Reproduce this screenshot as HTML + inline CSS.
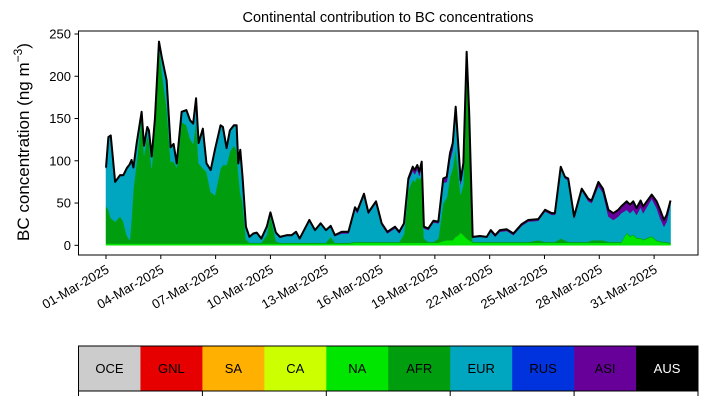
<!DOCTYPE html>
<html><head><meta charset="utf-8"><style>
body{margin:0;background:#fff;width:707px;height:402px;overflow:hidden;font-family:"Liberation Sans","DejaVu Sans",sans-serif}
svg{display:block}
</style></head><body>
<svg id="chart" width="707" height="402">
<text x="388" y="22" font-size="14.5" text-anchor="middle">Continental contribution to BC concentrations</text>
<text transform="translate(29,142) rotate(-90)" font-size="17" text-anchor="middle">BC concentration (ng m<tspan font-size="12" dy="-7">−3</tspan><tspan dy="7">)</tspan></text>
<g id="layers"></g>
<g id="axes"></g>
<g id="legend"></g>
</svg>
<script>
const days=[0,0.13,0.26,0.5,0.77,0.95,1.13,1.3,1.4,1.5,
1.68,1.95,2.08,2.26,2.35,2.5,2.68,2.9,3.05,3.32,
3.54,3.7,3.87,4.14,4.4,4.6,4.77,4.93,5.07,5.3,
5.5,5.73,5.96,6.27,6.4,6.6,6.78,7.0,7.15,7.24,
7.35,7.47,7.66,7.85,8.06,8.25,8.5,8.8,9.0,9.3,
9.52,9.89,10.16,10.4,10.6,11.13,11.44,11.75,12.04,12.3,
12.53,12.9,13.27,13.63,13.76,14.12,14.36,14.78,15.09,15.4,
15.82,16.05,16.31,16.55,16.79,16.9,17.04,17.15,17.28,17.4,
17.64,17.92,18.19,18.46,18.65,18.83,18.98,19.14,19.3,19.41,
19.56,19.74,19.88,20.07,20.47,20.84,21.06,21.3,21.56,21.93,
22.3,22.75,23.11,23.66,24.03,24.4,24.57,24.89,25.12,25.3,
25.62,26.04,26.4,26.58,26.95,27.2,27.5,27.77,28.04,28.2,
28.5,28.68,28.86,29.04,29.26,29.4,29.87,30.14,30.33,30.54,
30.69,30.9];
const naVals=[2,2,2,2,2,2,2,2,2,2, 2,2,2,2,2,2,2,2,2,2, 2,2,2,2,2,2,2,2,2,2,
2,2,2,2,2,2,2,2,2,2, 2,2,2,2,2,2,2,2,2,2, 2,2,2,2,2,2,2,2,2,2,
2,2,2,3,3,3,3,3,3,3, 3,3,3,3,3,3,3,3,3,3, 3,3,3,5,6,6,6,10,12,15,
12,8,6,3,3,3,3,3,3,3, 3,3,3,3,3,3,3,3,3,3, 3,3,3,3,3,3,3,3,3,3,
14,10,12,8,8,6,10,5,4,3, 3,2];
const afrVals=[44,40,30,26,32,26,10,4,30,65,
97,152,105,128,120,89,140,236,205,160,
97,97,90,144,140,124,118,144,95,89,
85,61,57,89,93,93,109,116,110,85,
60,49,5,1,1,1,1,10,33,3,
1,1,1,1,1,1,1,1,1,8,
1,1,1,1,1,1,1,1,1,1,
1,1,10,62,75,72,78,75,78,5,
1,1,5,45,50,75,85,105,70,45,
60,212,140,1,1,1,1,1,1,1,
1,1,1,3,1,1,1,5,3,1,
1,1,1,3,3,3,1,1,1,1,
1,1,1,1,1,1,1,1,1,1,
1,1];
const eurVals=[45,85,97,46,48,54,78,89,68,24,
21,3,10,9,13,13,7,2,15,32,
16,20,4,11,17,21,23,27,23,46,
9,25,53,50,44,19,24,23,29,9,
50,30,14,6,10,11,4,9,3,9,
6,8,8,12,4,26,14,22,14,12,
8,11,11,38,34,55,33,46,20,10,
16,10,11,11,10,9,9,4,13,12,
14,23,18,24,19,20,22,41,25,12,
19,6,7,5,6,5,12,6,12,13,
8,19,24,23,36,32,32,83,73,73,
28,61,48,44,64,56,30,26,30,34,
27,27,29,27,36,31,44,38,27,18,
24,47];
const asiVals=[1,1,1,1,1,1,1,1,1,1, 1,1,1,1,1,1,1,1,1,1, 1,1,1,1,1,1,1,1,1,1,
1,1,1,1,1,1,1,1,1,1, 1,1,1,1,1,1,1,1,1,1, 1,1,1,1,1,1,1,1,1,1,
1,2,2,3,3,2,2,2,2,2, 2,2,2,3,5,5,5,5,5,2, 2,2,2,5,6,8,8,8,6,5,
6,3,3,1,1,1,2,2,2,2, 2,2,2,2,2,2,2,2,2,2, 2,2,3,3,5,5,8,8,8,8,
10,10,10,8,8,8,5,8,10,8, 8,3];
const yTicks=[0,50,100,150,200,250];
const xTickDays=[0,3,6,9,12,15,18,21,24,27,30];
const xTickLabels=["01-Mar-2025","04-Mar-2025","07-Mar-2025","10-Mar-2025","13-Mar-2025","16-Mar-2025","19-Mar-2025","22-Mar-2025","25-Mar-2025","28-Mar-2025","31-Mar-2025"];
const legendNames=["OCE","GNL","SA","CA","NA","AFR","EUR","RUS","ASI","AUS"];
const legendColors=["#cccccc","#e60000","#ffb000","#ccff00","#00e600","#009e0e","#00a5bf","#0033dd","#660099","#000000"];

const NS="http://www.w3.org/2000/svg";
const X=d=>106+d*18.27;
const Y=v=>245.3-v*0.8452;
function mk(tag,attrs,parent){const e=document.createElementNS(NS,tag);for(const k in attrs)e.setAttribute(k,attrs[k]);parent.appendChild(e);return e;}
const layers=document.getElementById('layers');
const series=[["na",naVals,legendColors[4]],["afr",afrVals,legendColors[5]],["eur",eurVals,legendColors[6]],["asi",asiVals,legendColors[8]]];
let base=days.map(()=>0);
series.forEach(([nm,vals,col])=>{
  const top=base.map((b,i)=>b+vals[i]);
  let d="M"+days.map((t,i)=>X(t).toFixed(2)+","+Y(top[i]).toFixed(2)).join("L");
  for(let i=days.length-1;i>=0;i--)d+="L"+X(days[i]).toFixed(2)+","+Y(base[i]).toFixed(2);
  const p=mk('path',{d:d+"Z",fill:col,stroke:col,'stroke-width':0.5},layers);
  
  
  base=top;
});
const line=mk('path',{d:"M"+days.map((t,i)=>X(t).toFixed(2)+","+Y(base[i]).toFixed(2)).join("L"),fill:'none',stroke:'#000','stroke-width':2,'stroke-linejoin':'round'},layers);



const axes=document.getElementById('axes');
const frame=mk('rect',{x:78.5,y:31,width:619.5,height:224,fill:'none',stroke:'#000','stroke-width':1},axes);


yTicks.forEach(v=>{
  mk('line',{x1:74.5,x2:78.5,y1:Y(v),y2:Y(v),stroke:'#000'},axes);
  const t=mk('text',{x:71,y:Y(v)+4.5,'font-size':13,'text-anchor':'end'},axes);
  t.textContent=v;
  
  
});
xTickDays.forEach((dd,i)=>{
  const x=X(dd);
  mk('line',{x1:x,x2:x,y1:255,y2:259,stroke:'#000'},axes);
  const t=mk('text',{x:0,y:0,'font-size':13,'text-anchor':'end',transform:`translate(${x+4},${272}) rotate(-30)`},axes);
  t.textContent=xTickLabels[i];
  
  
});

const leg=document.getElementById('legend');
const lx=78.5,lw=619.5,ly=346,lh=45,bw=lw/legendNames.length;
legendNames.forEach((n,i)=>{
  const r=mk('rect',{x:lx+i*bw,y:ly,width:bw+0.3,height:lh,fill:legendColors[i]},leg);
  
  
  const t=mk('text',{x:lx+i*bw+bw/2,y:ly+lh/2+4.5,'font-size':13,'text-anchor':'middle',fill:n==="AUS"?'#fff':'#000'},leg);
  t.textContent=n;
  
  
});
mk('rect',{x:lx,y:ly,width:lw,height:lh,fill:'none',stroke:'#000','stroke-width':1},leg);
for(let k=0;k<=5;k++){mk('line',{x1:lx+k*bw*2,x2:lx+k*bw*2,y1:ly+lh,y2:ly+lh+5,stroke:'#000'},leg);}
</script>
</body></html>
